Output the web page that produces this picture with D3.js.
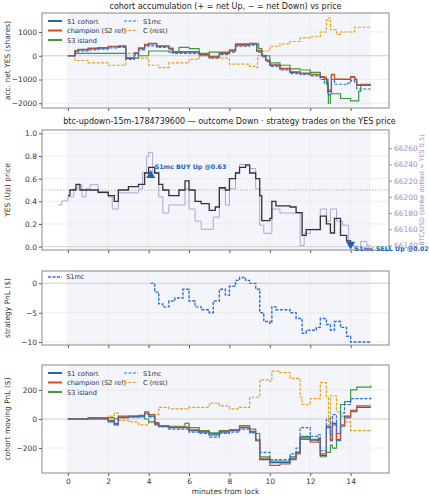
<!DOCTYPE html>
<html>
<head>
<meta charset="utf-8">
<script src="https://d3js.org/d3.v7.min.js"></script>
<style>body{margin:0;background:#fff}text{font-family:"DejaVu Sans",sans-serif}</style>
</head>
<body>
<script>
// ---- data: [minutes, value] ----
var accS1 = [[0,0],[0.35,200],[0.5,250],[1,300],[1.5,320],[2,380],[2.5,400],[2.87,-100],[3.3,100],[3.5,300],[3.8,450],[4,500],[4.4,400],[5,300],[5.2,150],[6,150],[6.5,50],[7,-50],[7.5,100],[8,200],[8.3,450],[9,500],[9.35,200],[9.6,0],[9.8,-200],[10,-400],[10.5,-550],[11,-700],[11.5,-750],[12,-800],[12.5,-900],[12.7,-1000],[12.87,-1500],[13.05,-800],[13.2,-1000],[13.8,-1000],[14,-900],[14.2,-1000],[14.3,-1250],[15,-1250]];
var accChamp = [[0,0],[0.35,220],[0.5,270],[1,320],[1.5,340],[2,400],[2.5,420],[2.87,-80],[3.3,120],[3.5,330],[3.8,480],[4,520],[4.4,420],[5,320],[5.2,170],[6,170],[6.5,70],[7,-30],[7.5,120],[8,220],[8.3,480],[9,520],[9.35,220],[9.6,20],[9.8,-180],[10,-380],[10.5,-530],[11,-680],[11.5,-730],[12,-780],[12.5,-880],[12.7,-980],[12.87,-1450],[13.05,-780],[13.2,-980],[13.8,-980],[14,-880],[14.2,-980],[14.3,-1230],[15,-1230]];
var accS1mc = [[0,0],[0.35,150],[0.5,200],[1,250],[1.5,280],[2,330],[2.5,350],[2.87,-150],[3.3,50],[3.5,250],[3.8,400],[4,420],[4.4,350],[5,250],[5.2,100],[6,100],[6.5,0],[7,-100],[7.5,60],[8,150],[8.3,400],[9,450],[9.35,150],[9.6,-50],[9.8,-250],[10,-450],[10.5,-600],[11,-750],[11.5,-800],[12,-850],[12.5,-1000],[12.7,-1150],[12.87,-1650],[13.05,-1000],[13.2,-1200],[13.8,-1150],[14,-1050],[14.2,-1150],[14.3,-1400],[15,-1400]];
var accS3 = [[0,0],[0.35,100],[2.87,-100],[3.5,0],[4,200],[5,150],[5.5,350],[6,300],[6.5,100],[7,150],[8,250],[8.3,500],[9.35,500],[9.45,300],[9.6,0],[10,-300],[10.5,-400],[11,-550],[11.5,-600],[12,-700],[12.5,-900],[12.8,-1200],[12.9,-2000],[13,-1600],[13.5,-1800],[14,-1900],[14.4,-1500],[14.5,-1200],[15,-1200]];
var accC = [[0,0],[0.35,-200],[1,-300],[2,-400],[2.87,100],[3.5,-100],[4,-400],[4.5,-500],[5,-300],[6,-150],[6.5,0],[7,-100],[8,-350],[9,-450],[9.35,-500],[9.4,0],[9.6,200],[10,400],[10.5,500],[11,600],[11.5,750],[12,800],[12.5,1000],[12.8,1500],[12.9,1600],[13,1100],[13.3,900],[13.5,1000],[14,1000],[14.2,1200],[15,1200]];

var yesPrice = [[0,0.45],[0.1,0.5],[0.4,0.55],[0.6,0.5],[1,0.5],[1.5,0.48],[2,0.45],[2.3,0.4],[2.5,0.5],[3,0.53],[3.5,0.55],[3.8,0.65],[4,0.7],[4.3,0.65],[4.5,0.55],[4.7,0.5],[5,0.45],[5.5,0.5],[5.8,0.58],[6,0.5],[6.3,0.4],[6.6,0.38],[7,0.32],[7.3,0.35],[7.5,0.52],[7.8,0.5],[8,0.6],[8.3,0.65],[8.5,0.7],[8.8,0.72],[9,0.65],[9.3,0.6],[9.5,0.45],[9.6,0.23],[10,0.25],[10.1,0.4],[10.3,0.36],[11,0.35],[11.3,0.3],[11.6,0.1],[11.8,0.15],[12.3,0.15],[12.5,0.27],[12.8,0.2],[13,0.12],[13.2,0.25],[13.5,0.1],[13.8,0.05],[14,0.02]];
var btcUsd = [[-0.5,66190],[-0.3,66195],[0,66200],[0.3,66210],[0.5,66215],[0.7,66200],[0.9,66210],[1.1,66215],[1.5,66205],[2,66200],[2.2,66185],[2.5,66205],[3,66205],[3.5,66210],[3.7,66230],[3.9,66250],[4,66255],[4.2,66230],[4.5,66200],[4.7,66180],[5,66190],[5.5,66190],[5.8,66210],[6,66185],[6.3,66170],[6.6,66160],[6.9,66160],[7.2,66175],[7.5,66210],[7.8,66190],[8,66210],[8.3,66230],[8.5,66240],[9,66235],[9.3,66210],[9.5,66165],[9.7,66155],[10,66155],[10.1,66185],[10.5,66180],[11,66180],[11.5,66140],[11.7,66155],[12,66160],[12.3,66160],[12.5,66185],[12.8,66170],[13,66185],[13.3,66170],[13.6,66165],[13.9,66140],[14.2,66135],[14.5,66145],[14.8,66140],[15,66140]];
var trades = [{t:4.1, p:0.63, side:"BUY"}, {t:14.0, p:0.02, side:"SELL"}];

var pnlS1mc = [[4.1,0],[4.3,-1.5],[4.5,-3.5],[4.7,-4],[5,-3],[5.3,-2.5],[5.7,-1],[6,-3],[6.3,-4],[6.6,-4.5],[7,-5],[7.2,-3],[7.5,-1],[7.8,-2],[8,-0.5],[8.3,0.5],[8.5,1],[8.8,0.5],[9,0],[9.3,-1],[9.5,-5],[9.7,-6.5],[10,-6.8],[10.1,-4],[10.3,-4.5],[11,-5],[11.3,-6],[11.6,-8.5],[11.8,-8],[12.3,-7.5],[12.5,-6],[12.8,-7],[13,-8],[13.2,-6.5],[13.5,-7.5],[13.8,-9],[14,-10],[15,-10]];

var mpS1 = [[0,0],[1,0],[2,-20],[2.3,-40],[2.5,10],[3,15],[3.5,20],[3.8,40],[4,20],[4.3,-30],[4.5,-50],[5,-60],[6,-80],[6.5,-90],[7,-110],[7.5,-90],[8,-80],[8.5,-60],[9,-90],[9.3,-150],[9.5,-280],[10,-300],[10.5,-300],[11,-270],[11.3,-230],[11.5,-130],[12,-150],[12.4,-140],[12.5,-250],[12.8,-50],[13,-150],[13.1,-30],[13.3,-150],[13.5,-50],[13.7,20],[14,50],[14.3,80],[15,80]];
var mpChamp = [[0,0],[1,5],[2,-10],[2.3,-30],[2.5,15],[3,20],[3.5,25],[3.8,50],[4,30],[4.3,-25],[4.5,-45],[5,-55],[6,-75],[6.5,-85],[7,-100],[7.5,-85],[8,-75],[8.5,-55],[9,-85],[9.3,-145],[9.5,-270],[10,-320],[10.5,-310],[11,-280],[11.3,-240],[11.5,-140],[12,-160],[12.4,-150],[12.5,-240],[12.8,-60],[13,-140],[13.1,-40],[13.3,-140],[13.5,-40],[13.7,10],[14,60],[14.3,90],[15,90]];
var mpS1mc = [[0,0],[1,0],[2,-15],[2.3,-35],[2.5,10],[3,15],[3.5,20],[3.8,35],[4,15],[4.3,-35],[4.5,-55],[5,-70],[6,-90],[6.5,-100],[7,-125],[7.5,-100],[8,-90],[8.5,-70],[9,-95],[9.3,-140],[9.5,-230],[10,-280],[10.5,-280],[11,-240],[11.3,-200],[11.5,-60],[12,-120],[12.4,-110],[12.5,-220],[12.8,0],[13,-110],[13.1,30],[13.3,-100],[13.5,40],[13.7,100],[14,140],[14.3,140],[15,150]];
var mpS3 = [[0,0],[1,10],[2,10],[2.3,0],[2.5,20],[3,20],[3.5,15],[3.8,0],[4,-20],[4.3,-40],[4.5,-50],[5,-50],[5.8,-30],[6,-60],[6.5,-80],[7,-95],[7.5,-80],[8,-75],[8.5,-45],[9,-70],[9.3,-100],[9.5,-260],[10,-290],[10.5,-290],[11,-260],[11.3,-230],[11.5,-120],[12,-140],[12.4,-130],[12.5,-260],[12.8,-230],[13,-180],[13.1,-200],[13.3,-100],[13.5,100],[13.7,120],[14,200],[14.3,220],[15,230]];
var mpC = [[0,0],[1,10],[2,20],[2.3,40],[2.5,-10],[3,-20],[3.5,-40],[4,-20],[4.3,30],[4.5,80],[5,70],[6,80],[7,110],[7.5,90],[8,70],[8.5,80],[9,150],[9.5,270],[10,260],[10.1,330],[10.5,320],[11,280],[11.5,150],[11.6,100],[12,140],[12.4,140],[12.5,250],[12.8,150],[12.9,-40],[13,160],[13.3,50],[13.5,20],[13.7,-20],[14,-80],[15,-90]];

var C = {s1:"#2462b8", champ:"#c4502c", s3:"#3a9a3e", s1mc:"#2f6fd0", rest:"#e3a21a", btc:"#b3a3d6", yes:"#333"};

var W = 429, H = 500, L = 42, R = 389;
var svg = d3.select("body").append("svg").attr("width", W).attr("height", H);
var x = d3.scaleLinear().domain([-1.28, 15.9]).range([L, R]);
var minus = function(d){ return d3.format("d")(d).replace("-","−"); };

function panel(top, bot, dom, ticks, fmt, ylabel, showX){
  var y = d3.scaleLinear().domain(dom).range([bot, top]);
  var g = svg.append("g");
  g.append("rect").attr("x", x(0)).attr("y", top).attr("width", x(15)-x(0)).attr("height", bot-top).attr("fill", "#f3f5fa");
  ticks.forEach(function(v){ g.append("line").attr("x1",L).attr("x2",R).attr("y1",y(v)).attr("y2",y(v)).attr("stroke","#e3e3e3").attr("stroke-width",0.6); });
  [0,2,4,6,8,10,12,14].forEach(function(v){ g.append("line").attr("x1",x(v)).attr("x2",x(v)).attr("y1",top).attr("y2",bot).attr("stroke","#e8e8e8").attr("stroke-width",0.6); });
  g.append("line").attr("x1",L).attr("x2",R).attr("y1",y(0)).attr("y2",y(0)).attr("stroke","#ccc").attr("stroke-width",0.8);
  var ya = g.append("g").attr("transform","translate("+L+",0)").call(d3.axisLeft(y).tickValues(ticks).tickFormat(fmt).tickSize(3).tickPadding(2));
  var xa = g.append("g").attr("transform","translate(0,"+bot+")").call(d3.axisBottom(x).tickValues([0,2,4,6,8,10,12,14]).tickSize(3).tickFormat(showX ? d3.format("d") : ""));
  [ya, xa].forEach(function(a){ a.select(".domain").remove(); a.selectAll("text").attr("font-size",7.5).attr("fill","#333"); a.selectAll("line").attr("stroke","#555"); });
  g.append("rect").attr("x",L).attr("y",top).attr("width",R-L).attr("height",bot-top).attr("fill","none").attr("stroke","#888").attr("stroke-width",1);
  g.append("text").attr("transform","translate(10,"+((top+bot)/2)+") rotate(-90)").attr("text-anchor","middle").attr("font-size",7.5).attr("fill","#333").text(ylabel);
  return y;
}
function draw(data, y, col, dash, w){
  svg.append("path").datum(data).attr("fill","none").attr("stroke",col).attr("stroke-width",w||1.2)
    .attr("stroke-dasharray", dash ? "3,1.5" : null)
    .attr("d", d3.line().curve(d3.curveStepAfter).x(function(d){return x(d[0]);}).y(function(d){return y(d[1]);}));
}
function legend(x0, y0, items){
  items.forEach(function(it, i){
    var cx = x0 + (i >= 3 ? 76 : 0), cy = y0 + (i % 3) * 9.5;
    svg.append("line").attr("x1",cx).attr("x2",cx+14).attr("y1",cy).attr("y2",cy).attr("stroke",it[1]).attr("stroke-width",it[2]?1.2:2).attr("stroke-dasharray",it[2]?"3,1.5":null);
    svg.append("text").attr("x",cx+19).attr("y",cy+2.5).attr("font-size",6.6).attr("fill","#333").text(it[0]);
  });
}
var legItems = [["S1 cohort",C.s1,false],["champion (S2 ref)",C.champ,false],["S3 island",C.s3,false],["S1mc",C.s1mc,true],["C (rest)",C.rest,true]];

// panel 1
svg.append("text").attr("x",(L+R)/2+10).attr("y",9).attr("text-anchor","middle").attr("font-size",8).attr("fill","#222").text("cohort accumulation (+ = net Up, − = net Down) vs price");
var y1 = panel(13, 108, [-2200, 1800], [-2000,-1000,0,1000], minus, "acc. net YES (shares)", false);
draw(accC, y1, C.rest, true); draw(accS3, y1, C.s3); draw(accS1, y1, C.s1); draw(accChamp, y1, C.champ); draw(accS1mc, y1, C.s1mc, true);
legend(48, 21, legItems);

// panel 2
svg.append("text").attr("x",(L+R)/2+14).attr("y",124).attr("text-anchor","middle").attr("font-size",8).attr("fill","#222").text("btc-updown-15m-1784739600 — outcome Down · strategy trades on the YES price");
var y2 = panel(130, 250, [-0.03, 1.03], [0,0.2,0.4,0.6,0.8,1.0], d3.format(".1f"), "YES (Up) price", false);
var b0 = y2(0.01);
var yb2 = d3.scaleLinear().domain([66140, 66260]).range([b0, b0 - 6*16.2]);
var ra = svg.append("g").attr("transform","translate("+R+",0)").call(d3.axisRight(yb2).tickValues([66140,66160,66180,66200,66220,66240,66260]).tickFormat(d3.format("d")).tickSize(3).tickPadding(2));
ra.select(".domain").remove(); ra.selectAll("text").attr("font-size",7.5).attr("fill","#9c8cc4"); ra.selectAll("line").attr("stroke","#9c8cc4");
svg.append("text").attr("transform","translate(424,190) rotate(-90)").attr("text-anchor","middle").attr("font-size",6.5).attr("fill","#9c8cc4").text("BTC/USD (strike dotted = YES 0.5)");
svg.append("line").attr("x1",L).attr("x2",R).attr("y1",y2(0.5)).attr("y2",y2(0.5)).attr("stroke","#aaa").attr("stroke-dasharray","1.5,1.5").attr("stroke-width",0.8);
draw(btcUsd, yb2, C.btc, false, 1);
draw(yesPrice, y2, C.yes, false, 1.3);
trades.forEach(function(t){
  var up = t.side === "BUY";
  svg.append("path").attr("d", d3.symbol().type(d3.symbolTriangle).size(36)()).attr("fill","#1f5fb8")
    .attr("transform","translate("+x(t.t)+","+y2(t.p)+")"+(up?"":" rotate(180)"));
  svg.append("text").attr("x",x(t.t)+4).attr("y",y2(t.p)+(up?-6:7)).attr("font-size",6.3).attr("font-weight","bold").attr("fill","#1f5fb8")
    .text("S1mc " + t.side + " Up @" + t.p.toFixed(2));
});

// panel 3
var y3 = panel(271, 345, [-10.5, 2.1], [-10,-5,0], minus, "strategy PnL ($)", false);
draw(pnlS1mc, y3, C.s1mc, true, 1.4);
svg.append("line").attr("x1",48).attr("x2",62).attr("y1",277).attr("y2",277).attr("stroke",C.s1mc).attr("stroke-width",1.4).attr("stroke-dasharray","3,1.5");
svg.append("text").attr("x",66).attr("y",279).attr("font-size",6.6).attr("fill","#333").text("S1mc");

// panel 4
var y4 = panel(365, 473, [-372, 372], [-200,0,200], minus, "cohort moving PnL ($)", true);
draw(mpC, y4, C.rest, true); draw(mpS3, y4, C.s3); draw(mpS1, y4, C.s1); draw(mpChamp, y4, C.champ); draw(mpS1mc, y4, C.s1mc, true);
legend(48, 373, legItems);
svg.append("text").attr("x",(L+R)/2+10).attr("y",494).attr("text-anchor","middle").attr("font-size",7.5).attr("fill","#333").text("minutes from lock");
</script>
</body>
</html>
